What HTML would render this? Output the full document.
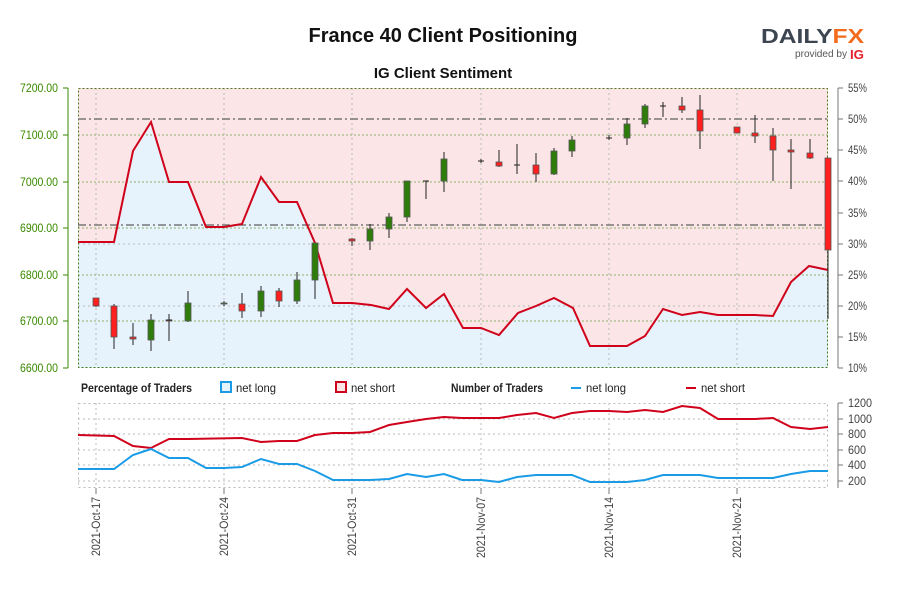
<!DOCTYPE html>
<html><head><meta charset="utf-8"><style>
body{margin:0;background:#fff;}
svg{display:block;font-family:"Liberation Sans",sans-serif;}
</style></head><body>
<svg width="900" height="600" viewBox="0 0 900 600" xmlns="http://www.w3.org/2000/svg">
<rect width="900" height="600" fill="#fff"/>
<text x="443" y="42" font-size="20" font-weight="bold" text-anchor="middle" fill="#111">France 40 Client Positioning</text>
<text x="443" y="78" font-size="15" font-weight="bold" text-anchor="middle" fill="#111">IG Client Sentiment</text>
<!-- logo -->
<text x="761" y="43" font-size="20" font-weight="bold" fill="#3d4550" textLength="103" lengthAdjust="spacingAndGlyphs">DAILY<tspan fill="#f26b1d">FX</tspan></text>
<text x="795" y="57" font-size="10" fill="#555" textLength="52" lengthAdjust="spacingAndGlyphs">provided by</text>
<text x="850" y="59" font-size="13" font-weight="bold" fill="#e5202e" textLength="14" lengthAdjust="spacingAndGlyphs">IG</text>

<!-- main plot -->
<rect x="78" y="88" width="750" height="280" fill="#fbe5e6"/>
<polygon fill="#e6f3fc" points="78,368 78,242 114,242 133,151 151,122 169,182 188,182 206,227 224,227 242,224 261,177 279,202 297,202 315,243 333,303 352,303 371,305 389,309 407,289 426,308 444,294 463,328 481,328 499,335 518,313 536,306 554,298 573,308 590,346 609,346 627,346 645,336 663,309 682,315 700,312 718,315 737,315 755,315 773,316 791,282 809,266 828,270 828,368"/>
<g stroke="#bbb" stroke-dasharray="2,3" stroke-width="1">
<line x1="96" y1="88" x2="96" y2="368"/><line x1="224" y1="88" x2="224" y2="368"/><line x1="352" y1="88" x2="352" y2="368"/><line x1="481" y1="88" x2="481" y2="368"/><line x1="609" y1="88" x2="609" y2="368"/><line x1="737" y1="88" x2="737" y2="368"/>
<line x1="78" y1="244" x2="828" y2="244"/><line x1="78" y1="306" x2="828" y2="306"/>
</g>
<g stroke="#8fb26a" stroke-dasharray="2,2" stroke-width="1">
<line x1="78" y1="135" x2="828" y2="135"/><line x1="78" y1="182" x2="828" y2="182"/><line x1="78" y1="228" x2="828" y2="228"/><line x1="78" y1="275" x2="828" y2="275"/><line x1="78" y1="321" x2="828" y2="321"/>
</g>
<rect x="78.5" y="88.5" width="749" height="279" fill="none" stroke="#4a7a20" stroke-dasharray="2,2"/>
<g stroke="#777" stroke-width="1.5" stroke-dasharray="8,3,2,3">
<line x1="78" y1="119" x2="828" y2="119"/><line x1="78" y1="225" x2="828" y2="225"/>
</g>
<polyline fill="none" stroke="#d0021b" stroke-width="2" points="78,242 114,242 133,151 151,122 169,182 188,182 206,227 224,227 242,224 261,177 279,202 297,202 315,243 333,303 352,303 371,305 389,309 407,289 426,308 444,294 463,328 481,328 499,335 518,313 536,306 554,298 573,308 590,346 609,346 627,346 645,336 663,309 682,315 700,312 718,315 737,315 755,315 773,316 791,282 809,266 828,270"/>
<!-- candles -->
<g stroke="#222" stroke-width="1">
<line x1="96" y1="298" x2="96" y2="307"/><line x1="114" y1="304" x2="114" y2="349"/><line x1="133" y1="323" x2="133" y2="345"/><line x1="151" y1="314" x2="151" y2="351"/><line x1="169" y1="314" x2="169" y2="341"/><line x1="188" y1="291" x2="188" y2="322"/><line x1="224" y1="301" x2="224" y2="306"/><line x1="242" y1="293" x2="242" y2="318"/><line x1="261" y1="286" x2="261" y2="317"/><line x1="279" y1="288" x2="279" y2="307"/><line x1="297" y1="272" x2="297" y2="304"/><line x1="315" y1="243" x2="315" y2="299"/><line x1="352" y1="238" x2="352" y2="246"/><line x1="370" y1="224" x2="370" y2="250"/><line x1="389" y1="213" x2="389" y2="238"/><line x1="407" y1="181" x2="407" y2="222"/><line x1="426" y1="181" x2="426" y2="199"/><line x1="444" y1="152" x2="444" y2="192"/><line x1="481" y1="159" x2="481" y2="163"/><line x1="499" y1="150" x2="499" y2="167"/><line x1="517" y1="144" x2="517" y2="174"/><line x1="536" y1="153" x2="536" y2="182"/><line x1="554" y1="148" x2="554" y2="175"/><line x1="572" y1="136" x2="572" y2="157"/><line x1="609" y1="135" x2="609" y2="140"/><line x1="627" y1="118" x2="627" y2="145"/><line x1="645" y1="104" x2="645" y2="128"/><line x1="663" y1="102" x2="663" y2="117"/><line x1="682" y1="97" x2="682" y2="113"/><line x1="700" y1="95" x2="700" y2="149"/><line x1="737" y1="127" x2="737" y2="133"/><line x1="755" y1="115" x2="755" y2="143"/><line x1="773" y1="128" x2="773" y2="181"/><line x1="791" y1="139" x2="791" y2="189"/><line x1="810" y1="139" x2="810" y2="159"/><line x1="828" y1="158" x2="828" y2="319"/>
</g>
<g stroke="#555" stroke-width="0.8">
<g fill="#ff1f1f">
<rect x="93" y="298" width="6" height="8"/><rect x="111" y="306" width="6" height="31"/><rect x="130" y="337" width="6" height="2"/><rect x="166" y="320" width="6" height="1"/><rect x="239" y="304" width="6" height="7"/><rect x="276" y="291" width="6" height="10"/><rect x="349" y="239" width="6" height="2"/><rect x="496" y="162" width="6" height="4"/><rect x="533" y="165" width="6" height="9"/><rect x="679" y="106" width="6" height="4"/><rect x="697" y="110" width="6" height="21"/><rect x="734" y="127" width="6" height="6"/><rect x="752" y="133" width="6" height="3"/><rect x="770" y="136" width="6" height="14"/><rect x="788" y="150" width="6" height="2"/><rect x="807" y="153" width="6" height="5"/><rect x="825" y="158" width="6" height="92"/>
</g>
<g fill="#2e7d0a">
<rect x="148" y="320" width="6" height="20"/><rect x="185" y="303" width="6" height="18"/><rect x="221" y="303" width="6" height="1"/><rect x="258" y="291" width="6" height="20"/><rect x="294" y="280" width="6" height="21"/><rect x="312" y="243" width="6" height="37"/><rect x="367" y="229" width="6" height="12"/><rect x="386" y="217" width="6" height="12"/><rect x="404" y="181" width="6" height="36"/><rect x="441" y="159" width="6" height="22"/><rect x="551" y="151" width="6" height="23"/><rect x="569" y="140" width="6" height="11"/><rect x="624" y="124" width="6" height="14"/><rect x="642" y="106" width="6" height="18"/>
</g>
</g>
<g stroke="#222"><line x1="423" y1="181" x2="429" y2="181"/><line x1="478" y1="161" x2="484" y2="161"/><line x1="514" y1="165" x2="520" y2="165"/><line x1="606" y1="138" x2="612" y2="138"/><line x1="660" y1="106" x2="666" y2="106"/><line x1="166" y1="320" x2="172" y2="320"/></g>
<!-- left axis -->
<g stroke="#3a8a00"><line x1="68" y1="88" x2="68" y2="368"/>
<line x1="63" y1="88" x2="68" y2="88"/><line x1="63" y1="135" x2="68" y2="135"/><line x1="63" y1="182" x2="68" y2="182"/><line x1="63" y1="228" x2="68" y2="228"/><line x1="63" y1="275" x2="68" y2="275"/><line x1="63" y1="321" x2="68" y2="321"/><line x1="63" y1="368" x2="68" y2="368"/></g>
<g fill="#3a8a00" font-size="12" text-anchor="start">
<text x="20" y="92" textLength="38" lengthAdjust="spacingAndGlyphs">7200.00</text><text x="20" y="139" textLength="38" lengthAdjust="spacingAndGlyphs">7100.00</text><text x="20" y="186" textLength="38" lengthAdjust="spacingAndGlyphs">7000.00</text><text x="20" y="232" textLength="38" lengthAdjust="spacingAndGlyphs">6900.00</text><text x="20" y="279" textLength="38" lengthAdjust="spacingAndGlyphs">6800.00</text><text x="20" y="325" textLength="38" lengthAdjust="spacingAndGlyphs">6700.00</text><text x="20" y="372" textLength="38" lengthAdjust="spacingAndGlyphs">6600.00</text></g>
<!-- right axis -->
<g stroke="#777"><line x1="838" y1="88" x2="838" y2="368"/>
<line x1="838" y1="88" x2="843" y2="88"/><line x1="838" y1="119" x2="843" y2="119"/><line x1="838" y1="150" x2="843" y2="150"/><line x1="838" y1="181" x2="843" y2="181"/><line x1="838" y1="213" x2="843" y2="213"/><line x1="838" y1="244" x2="843" y2="244"/><line x1="838" y1="275" x2="843" y2="275"/><line x1="838" y1="306" x2="843" y2="306"/><line x1="838" y1="337" x2="843" y2="337"/><line x1="838" y1="368" x2="843" y2="368"/></g>
<g fill="#444" font-size="12">
<text x="848" y="92" textLength="19" lengthAdjust="spacingAndGlyphs">55%</text><text x="848" y="123" textLength="19" lengthAdjust="spacingAndGlyphs">50%</text><text x="848" y="154" textLength="19" lengthAdjust="spacingAndGlyphs">45%</text><text x="848" y="185" textLength="19" lengthAdjust="spacingAndGlyphs">40%</text><text x="848" y="217" textLength="19" lengthAdjust="spacingAndGlyphs">35%</text><text x="848" y="248" textLength="19" lengthAdjust="spacingAndGlyphs">30%</text><text x="848" y="279" textLength="19" lengthAdjust="spacingAndGlyphs">25%</text><text x="848" y="310" textLength="19" lengthAdjust="spacingAndGlyphs">20%</text><text x="848" y="341" textLength="19" lengthAdjust="spacingAndGlyphs">15%</text><text x="848" y="372" textLength="19" lengthAdjust="spacingAndGlyphs">10%</text></g>

<!-- legend -->
<g font-size="12" fill="#222">
<text x="81" y="392" font-weight="bold" textLength="111" lengthAdjust="spacingAndGlyphs">Percentage of Traders</text>
<rect x="221" y="382" width="10" height="10" fill="#e6f3fc" stroke="#1a9be6" stroke-width="2"/>
<text x="236" y="392" textLength="40" lengthAdjust="spacingAndGlyphs">net long</text>
<rect x="336" y="382" width="10" height="10" fill="#fbe5e6" stroke="#d0021b" stroke-width="2"/>
<text x="351" y="392" textLength="44" lengthAdjust="spacingAndGlyphs">net short</text>
<text x="451" y="392" font-weight="bold" textLength="92" lengthAdjust="spacingAndGlyphs">Number of Traders</text>
<line x1="571" y1="388" x2="581" y2="388" stroke="#1a9be6" stroke-width="2"/>
<text x="586" y="392" textLength="40" lengthAdjust="spacingAndGlyphs">net long</text>
<line x1="686" y1="388" x2="696" y2="388" stroke="#d0021b" stroke-width="2"/>
<text x="701" y="392" textLength="44" lengthAdjust="spacingAndGlyphs">net short</text>
</g>
<!-- bottom plot -->
<g stroke="#bbb" stroke-dasharray="2,3">
<line x1="78" y1="419" x2="828" y2="419"/><line x1="78" y1="434" x2="828" y2="434"/><line x1="78" y1="450" x2="828" y2="450"/><line x1="78" y1="465" x2="828" y2="465"/><line x1="78" y1="481" x2="828" y2="481"/>
<line x1="96" y1="403" x2="96" y2="488"/><line x1="224" y1="403" x2="224" y2="488"/><line x1="352" y1="403" x2="352" y2="488"/><line x1="481" y1="403" x2="481" y2="488"/><line x1="609" y1="403" x2="609" y2="488"/><line x1="737" y1="403" x2="737" y2="488"/>
<rect x="78.5" y="403.5" width="749" height="84" fill="none"/>
</g>
<polyline fill="none" stroke="#d0021b" stroke-width="2" points="78,435 114,436 133,446 151,448 169,439 188,439 242,438 261,442 279,441 297,441 315,435 333,433 352,433 370,432 389,425 407,422 426,419 444,417 462,418 481,418 499,418 517,415 536,413 554,418 572,413 590,411 609,411 627,412 645,410 663,412 682,406 700,408 718,419 737,419 755,419 773,418 791,427 810,429 828,427"/>
<polyline fill="none" stroke="#1a9be6" stroke-width="2" points="78,469 114,469 133,455 151,449 169,458 188,458 206,468 224,468 242,467 261,459 279,464 297,464 315,471 333,480 352,480 370,480 389,479 407,474 426,477 444,474 462,480 481,480 499,482 517,477 536,475 554,475 572,475 590,482 609,482 627,482 645,480 663,475 682,475 700,475 718,478 737,478 755,478 773,478 791,474 810,471 828,471"/>
<g stroke="#777"><line x1="838" y1="403" x2="838" y2="488"/>
<line x1="838" y1="403" x2="843" y2="403"/><line x1="838" y1="419" x2="843" y2="419"/><line x1="838" y1="434" x2="843" y2="434"/><line x1="838" y1="450" x2="843" y2="450"/><line x1="838" y1="465" x2="843" y2="465"/><line x1="838" y1="481" x2="843" y2="481"/></g>
<g fill="#444" font-size="12">
<text x="848" y="407" textLength="24" lengthAdjust="spacingAndGlyphs">1200</text><text x="848" y="423" textLength="24" lengthAdjust="spacingAndGlyphs">1000</text><text x="848" y="438" textLength="18" lengthAdjust="spacingAndGlyphs">800</text><text x="848" y="454" textLength="18" lengthAdjust="spacingAndGlyphs">600</text><text x="848" y="469" textLength="18" lengthAdjust="spacingAndGlyphs">400</text><text x="848" y="485" textLength="18" lengthAdjust="spacingAndGlyphs">200</text></g>
<g stroke="#777"><line x1="96" y1="488" x2="96" y2="494"/><line x1="224" y1="488" x2="224" y2="494"/><line x1="352" y1="488" x2="352" y2="494"/><line x1="481" y1="488" x2="481" y2="494"/><line x1="609" y1="488" x2="609" y2="494"/><line x1="737" y1="488" x2="737" y2="494"/></g>
<g fill="#444" font-size="12" text-anchor="end">
<text transform="translate(100,497) rotate(-90)" textLength="59" lengthAdjust="spacingAndGlyphs">2021-Oct-17</text>
<text transform="translate(228,497) rotate(-90)" textLength="59" lengthAdjust="spacingAndGlyphs">2021-Oct-24</text>
<text transform="translate(356,497) rotate(-90)" textLength="59" lengthAdjust="spacingAndGlyphs">2021-Oct-31</text>
<text transform="translate(485,497) rotate(-90)" textLength="61" lengthAdjust="spacingAndGlyphs">2021-Nov-07</text>
<text transform="translate(613,497) rotate(-90)" textLength="61" lengthAdjust="spacingAndGlyphs">2021-Nov-14</text>
<text transform="translate(741,497) rotate(-90)" textLength="61" lengthAdjust="spacingAndGlyphs">2021-Nov-21</text>
</g>
</svg>
</body></html>
